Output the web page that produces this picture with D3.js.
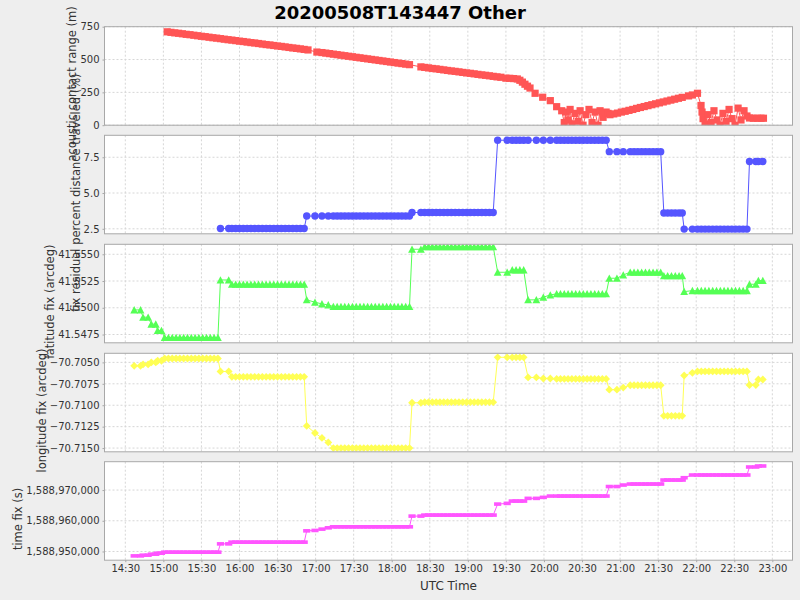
<!DOCTYPE html>
<html><head><meta charset="utf-8">
<script src="https://cdn.jsdelivr.net/npm/d3@7"></script>
<style>
body{margin:0;background:#eeeeee}
svg{display:block}
text{font-family:"DejaVu Sans",sans-serif}
</style>
</head><body>
<svg id="chart" width="800" height="600"></svg>
<script>
// ---------------- DATA ----------------
const chartTitle = "20200508T143447 Other";
const xAxisLabel = "UTC Time";
const xTickLabels = ["14:30","15:00","15:30","16:00","16:30","17:00","17:30","18:00","18:30","19:00","19:30","20:00","20:30","21:00","21:30","22:00","22:30","23:00"];

// acoustic contact range samples: minutes after 14:00 UTC, metres
const rangeMin = [63,66,69,72,75,78,81,84,87,90,93,96,99,102,105,108,111,114,117,120,123,126,129,132,135,138,141,144,147,150,153,156,159,162,165,168,171,174,
 181,185,188,191,194,197,200,203,206,209,212,215,218,221,224,227,230,233,236,239,242,245,248,251,254,
 263,266,269,272,275,278,281,284,287,290,293,296,299,302,305,308,311,314,317,320,323,326,
 330,333,336,339,341,343,345,347,349,353,359,365,370,
 374,376,377.5,379,380.6,382,384.5,386.9,388.5,390.8,393,395.5,397.9,400.3,402.6,404.2,406.6,409,410.5,
 412,415,418,421,424,427,430,433,436,439,442,445,448,451,454,457,460,463,466,469,474,477,481,
 483.8,484.6,485.4,487,489.3,491.7,494,496.4,498.8,501.1,503.5,505.9,508.2,510.6,513,515.3,517.7,520,
 522,525,528,531,533];
const rangeVal = [711,707,703,700,696,692,689,685,681,677,674,670,666,663,659,655,651,648,644,640,637,633,629,626,622,618,614,611,607,603,600,596,592,588,585,581,577,573,
 557,553,549,545,541,537,533,529,525,521,517,513,509,505,501,497,493,489,485,481,477,473,469,465,461,
 444,440,436,432,429,425,421,417,413,410,406,402,398,395,391,387,383,380,376,372,368,365,
 358,357,355,352,342,328,312,297,283,243,213,187,141,
 110,20,100,40,120,10,90,30,110,0,80,120,20,100,0,110,60,100,90,
 80,86,92,100,106,113,120,128,135,142,149,156,163,170,177,184,191,198,205,212,223,230,243,
 150,100,50,10,80,20,110,40,0,90,30,120,50,0,130,40,110,70,
 55,53,53,53,53];

// position fixes: sample times (minutes after 14:00 UTC) for each fix
const fixSamples = [
 [37,42],[44,48],[50.5,54],[55.5,58.5],
 [61,64,67,70,73,76,79,82,85,88,91,94,97,100,103],
 [105,111.5],
 [114,117,120,123,126,129,132,135,138,141,144,147,150,153,156,159,162,165,168,171],
 [173],[179.5],[185],[190],
 [194,197,200,203,206,209,212,215,218,221,224,227,230,233,236,239,242,245,248,251,254],
 [256,263],
 [266,269,272,275,278,281,284,287,290,293,296,299,302,305,308,311,314,317,320],
 [323.5],[331],[335,338,341,344],[347.5,354],[359.5],[365],
 [370,373,376,379,382,385,388,391,394,397,400,403,406,409],
 [411.5,417.5],[422.5],
 [428,431,434,437,440,443,446,449,452],
 [454.5,457.5,460.5,463.5,466.5,469],
 [470.5],[477],
 [481,484,487,490,493,496,499,502,505,508,511,514,517,520],
 [522,527],[529,532.5]
];
const residualByFix = [null,null,null,null,null,2.52,2.52,3.39,3.39,3.39,3.39,3.39,3.64,3.64,8.69,8.69,8.69,8.69,8.69,8.69,8.69,7.89,7.89,7.89,3.60,2.48,2.48,2.48,7.20,7.20];
const latByFix = [41.54980,41.54912,41.54847,41.54787,41.54722,41.55260,41.55220,41.55074,41.55052,41.55036,41.55027,41.55011,41.55547,41.55571,41.55332,41.55332,41.55354,41.55074,41.55099,41.55120,41.55130,41.55276,41.55307,41.55332,41.55300,41.55151,41.55160,41.55160,41.55220,41.55254];
const lonByFix = [-70.70540,-70.70524,-70.70500,-70.70481,-70.70455,-70.70606,-70.70669,-70.71241,-70.71324,-70.71382,-70.71434,-70.71500,-70.70971,-70.70964,-70.70441,-70.70441,-70.70441,-70.70676,-70.70688,-70.70688,-70.70693,-70.70818,-70.70794,-70.70767,-70.71124,-70.70653,-70.70622,-70.70606,-70.70764,-70.70700];
const timeFixByFix = [1588948564,1588948793,1588949119,1588949445,1588949772,1588952480,1588953035,1588956722,1588956852,1588957277,1588957701,1588958027,1588961518,1588961845,1588965434,1588965662,1588966413,1588967294,1588967620,1588968044,1588968044,1588971144,1588971634,1588971960,1588973265,1588974016,1588974897,1588974897,1588977507,1588977834];

const panelLabels = ["acoustic contact range (m)","fix residual percent distance traveled (%)","latitude fix (arcdeg)","longitude fix (arcdeg)","time fix (s)"];
const yTicks1 = [0,250,500,750];
const yTicks2 = [2.5,5.0,7.5];
const yTicks3 = [41.5475,41.5500,41.5525,41.5550];
const yTicks4 = [-70.7150,-70.7125,-70.7100,-70.7075,-70.7050];
const yTicks5 = [1588950000,1588960000,1588970000];

// ---------------- LAYOUT ----------------
const W = 800, H = 600;
const plotL = 104.5, plotR = 792.5;
const panelTops = [26.7,135.3,244.3,353.3,461.7];
const panelH = 98.5;
const colors = ["#ff5555","#5555ff","#55ff55","#ffff55","#ff55ff"];

const svg = d3.select("#chart");
svg.append("rect").attr("width",W).attr("height",H).attr("fill","#eeeeee");

const parseHM = s => { const [h,m] = s.split(":").map(Number); return (h-14)*60+m; };
const x = d3.scaleLinear().domain([13.6,555.9]).range([plotL,plotR]);

const fixPts = (vals) => {
  const out = [];
  fixSamples.forEach((arr,i) => { if (vals[i] !== null) arr.forEach(t => out.push({t, v: vals[i]})); });
  return out;
};
const series = [
  rangeMin.map((t,i)=>({t, v: rangeVal[i]})),
  fixPts(residualByFix),
  fixPts(latByFix),
  fixPts(lonByFix),
  fixPts(timeFixByFix)
];
const yDomains = [[0,750],[2.151,9.034],[41.546726,41.555933],[-70.715435,-70.703941],[1588947161,1588979233]];
const yTickSets = [yTicks1,yTicks2,yTicks3,yTicks4,yTicks5];
const fmtComma = d3.format(",");
const yFormats = [d3.format("d"), d3.format(".1f"), d3.format(".4f"), d3.format(".4f"), v => fmtComma(v)];

const shapes = [
  g => g.append("rect").attr("x",-3.6).attr("y",-3.6).attr("width",7.2).attr("height",7.2),
  g => g.append("circle").attr("r",3.7),
  g => g.append("path").attr("d","M0,-3.8L3.9,3.5L-3.9,3.5Z"),
  g => g.append("path").attr("d","M0,-3.9L3.9,0L0,3.9L-3.9,0Z"),
  g => g.append("rect").attr("x",-3.6).attr("y",-1.8).attr("width",7.2).attr("height",3.6)
];

const xTickMins = xTickLabels.map(parseHM);

series.forEach((pts, p) => {
  const top = panelTops[p], bot = top + panelH;
  const y = d3.scaleLinear().domain(yDomains[p]).range([bot, top]);
  const g = svg.append("g");
  g.append("rect").attr("x",plotL).attr("y",top).attr("width",plotR-plotL).attr("height",panelH).attr("fill","#ffffff");
  g.selectAll(".vg").data(xTickMins).join("line")
    .attr("x1",d=>x(d)).attr("x2",d=>x(d)).attr("y1",top).attr("y2",bot)
    .attr("stroke","#d6d6d6").attr("stroke-dasharray","2,2").attr("stroke-width",1);
  g.selectAll(".hg").data(yTickSets[p]).join("line")
    .attr("x1",plotL).attr("x2",plotR).attr("y1",d=>y(d)).attr("y2",d=>y(d))
    .attr("stroke","#d6d6d6").attr("stroke-dasharray","2,2").attr("stroke-width",1);
  const clipId = "clip"+p;
  svg.append("clipPath").attr("id",clipId).append("rect").attr("x",plotL).attr("y",top).attr("width",plotR-plotL).attr("height",panelH);
  const dg = g.append("g").attr("clip-path",`url(#${clipId})`);
  dg.append("path").datum(pts)
    .attr("d", d3.line().x(d=>x(d.t)).y(d=>y(d.v)))
    .attr("fill","none").attr("stroke",colors[p]).attr("stroke-width",1);
  dg.selectAll(".m").data(pts).join("g")
    .attr("transform",d=>`translate(${x(d.t)},${y(d.v)})`)
    .each(function(){ shapes[p](d3.select(this)); })
    .attr("fill",colors[p]);
  g.append("rect").attr("x",plotL).attr("y",top).attr("width",plotR-plotL).attr("height",panelH)
    .attr("fill","none").attr("stroke","#a8a8a8").attr("stroke-width",1);
  const ax = d3.axisLeft(y).tickValues(yTickSets[p]).tickFormat(yFormats[p]).tickSizeInner(2).tickSizeOuter(0).tickPadding(3);
  const ag = g.append("g").attr("transform",`translate(${plotL},0)`).call(ax);
  ag.select(".domain").remove();
  ag.selectAll(".tick line").attr("stroke","#a8a8a8");
  ag.selectAll(".tick text").attr("font-size",10).attr("fill","#333").attr("font-family","DejaVu Sans");
  const bb = ag.node().getBBox();
  const lx = plotL + bb.x - 8;
  g.append("text").attr("transform",`translate(${lx},${top+panelH/2+8}) rotate(-90)`)
    .attr("text-anchor","middle").attr("dominant-baseline","central")
    .attr("font-size",11.5).attr("fill","#333").text(panelLabels[p]);
  if (p === 4) {
    const xa = d3.axisBottom(x).tickValues(xTickMins).tickFormat((d,i)=>xTickLabels[i]).tickSizeInner(2).tickSizeOuter(0).tickPadding(3);
    const xg = g.append("g").attr("transform",`translate(0,${bot})`).call(xa);
    xg.select(".domain").remove();
    xg.selectAll(".tick line").attr("stroke","#a8a8a8");
    xg.selectAll(".tick text").attr("font-size",10).attr("fill","#333").attr("font-family","DejaVu Sans");
  }
});

svg.append("text").attr("x",(plotL+plotR)/2).attr("y",590).attr("text-anchor","middle")
  .attr("font-size",12).attr("fill","#333").text(xAxisLabel);
svg.append("text").attr("x",400).attr("y",19).attr("text-anchor","middle")
  .attr("font-size",18).attr("font-weight","bold").attr("fill","#000").text(chartTitle);
</script>
</body></html>
